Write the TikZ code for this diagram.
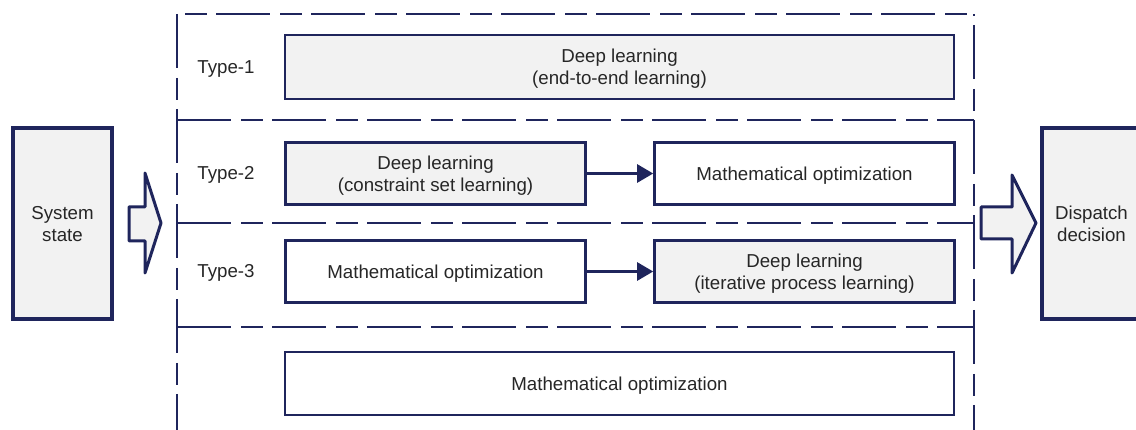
\documentclass[tikz,border=0pt]{standalone}
\usepackage{fontspec}
\setmainfont{Liberation Sans}
\usetikzlibrary{positioning}
\usetikzlibrary{arrows.meta}

\definecolor{navy}{RGB}{31,37,92}
\definecolor{boxgray}{RGB}{242,242,242}
\definecolor{textgray}{RGB}{38,38,38}

\begin{document}
\begin{tikzpicture}[x=1pt,y=-1pt,>={Triangle[length=16pt,width=18pt]},
                font=\fontsize{18.7}{22}\selectfont,
                method node/.style={draw=navy,line width=2.6pt,align=center,text=textgray,
                  inner sep=0pt,text depth=0pt,minimum height=62pt,minimum width=300pt},
                wide node/.style={method node,minimum width=669pt},
                learn node/.style={fill=boxgray},
                io node/.style={draw=navy,fill=boxgray,line width=3.6pt,align=center,text=textgray,
                  text depth=0pt,minimum width=99pt,minimum height=191pt},
                type label/.style={text=textgray,text depth=0pt},
                frame line/.style={navy,line width=2.4pt,dash pattern=on 54pt off 10pt on 22pt off 9pt},
                block arrow/.style={draw=navy,fill=boxgray,line width=3pt,line join=round}]

  \useasboundingbox (0,0) rectangle (1136,430);
  \clip (0,0) rectangle (1136,430);

  % frame of the three types
  \draw[frame line,dash phase=56pt] (177,14) -- (974,14);
  \draw[frame line] (177,14) -- (177,432);
  \draw[frame line,dash phase=84pt] (974,14) -- (974,432);
  \foreach \y in {120,223,327}
    \draw[frame line] (177,\y) -- (974,\y);

  \node[io node] (state) at (62.5,223.5) {System\\state};
  \node[io node] (decision) at (1091.5,223.5) {Dispatch\\decision};

  \node[type label] (t1) at (226,67) {Type-1};
  \node[type label] (t2) at (226,173) {Type-2};
  \node[type label] (t3) at (226,271) {Type-3};

  \node[wide node,learn node,minimum height=64pt] (learn1) at (619.5,67) {Deep learning\\(end-to-end learning)};

  \node[method node,learn node] (learn2) at (435.5,173.5) {Deep learning\\(constraint set learning)};
  \node[method node] (opt2) at (804.5,173.5) {Mathematical optimization};

  \node[method node] (opt3) at (435.5,271.5) {Mathematical optimization};
  \node[method node,learn node] (learn3) at (804.5,271.5) {Deep learning\\(iterative process learning)};

  \node[wide node,minimum height=63pt] (opt0) at (619.5,383.5) {Mathematical optimization};

  \path[->,navy,line width=2.6pt]
    (learn2) edge (opt2)
    (opt3) edge (learn3);

  % big arrows in and out
  \coordinate (in) at (145,223);
  \coordinate (out) at (1012,223);
  \draw[block arrow] (in) ++(-16,-16) -- ++(16,0) -- ++(0,-34) -- ++(16,50)
    -- ++(-16,50) -- ++(0,-32) -- ++(-16,0) -- cycle;
  \draw[block arrow] (out) ++(-31,-16) -- ++(31,0) -- ++(0,-32) -- ++(24,48)
    -- ++(-24,50) -- ++(0,-34) -- ++(-31,0) -- cycle;

\end{tikzpicture}
\end{document}
